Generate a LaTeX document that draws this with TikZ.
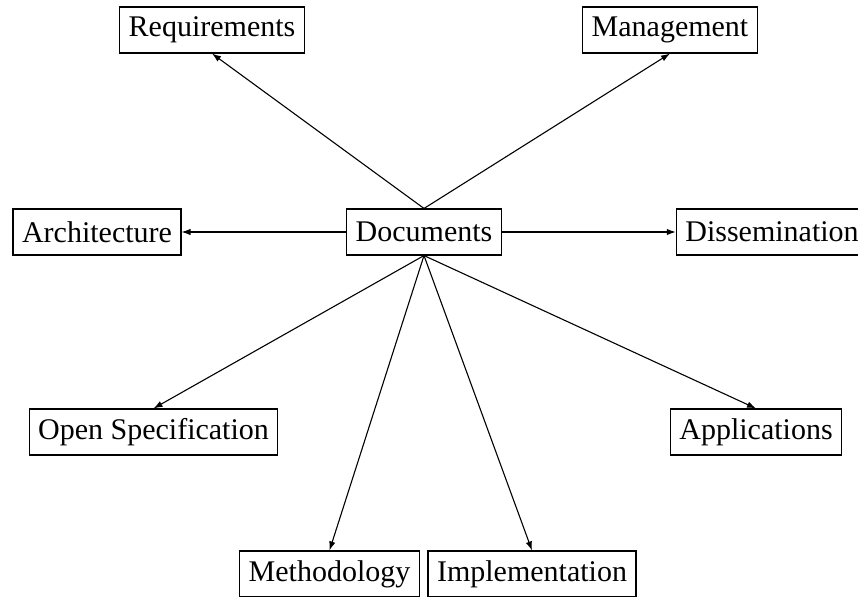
\documentclass[tikz,border=0pt]{standalone}
\usepackage{fontspec}
\setmainfont{Liberation Serif}
\usetikzlibrary{arrows.meta}

\begin{document}
\begin{tikzpicture}[x=0.5pt,y=-0.5pt,
  box/.style={draw,line width=0.55pt,fill=white,inner xsep=4.5pt,inner ysep=0pt,
              minimum height=23pt,font=\fontsize{15}{17}\selectfont},
  arr/.style={-{Latex[length=4.5pt,width=3.2pt]},line width=0.55pt}
]
\useasboundingbox (0,0) rectangle (858,596);
\clip (0,0) rectangle (858,596);
\node[box] (docs) at (424,232)   {Documents};
\node[box] (req)  at (212,30)    {Requirements};
\node[box] (mgmt) at (670,30)    {Management};
\node[box] (arch) at (97,232)    {Architecture};
\node[box] (diss) at (772,232)   {Dissemination};
\node[box] (spec) at (153.5,432) {Open Specification};
\node[box] (app)  at (756,432)   {Applications};
\node[box] (meth) at (329.5,574) {Methodology};
\node[box] (impl) at (532,574)   {Implementation};
\draw[arr] (docs.north)--(req.south); \draw[arr] (docs.north)--(mgmt.south);
\draw[arr] (docs.west)--(arch.east); \draw[arr] (docs.east)--(diss.west);
\draw[arr] (docs.south)--(spec.north); \draw[arr] (docs.south)--(app.north);
\draw[arr] (docs.south)--(meth.north); \draw[arr] (docs.south)--(impl.north);
\end{tikzpicture}
\end{document}
